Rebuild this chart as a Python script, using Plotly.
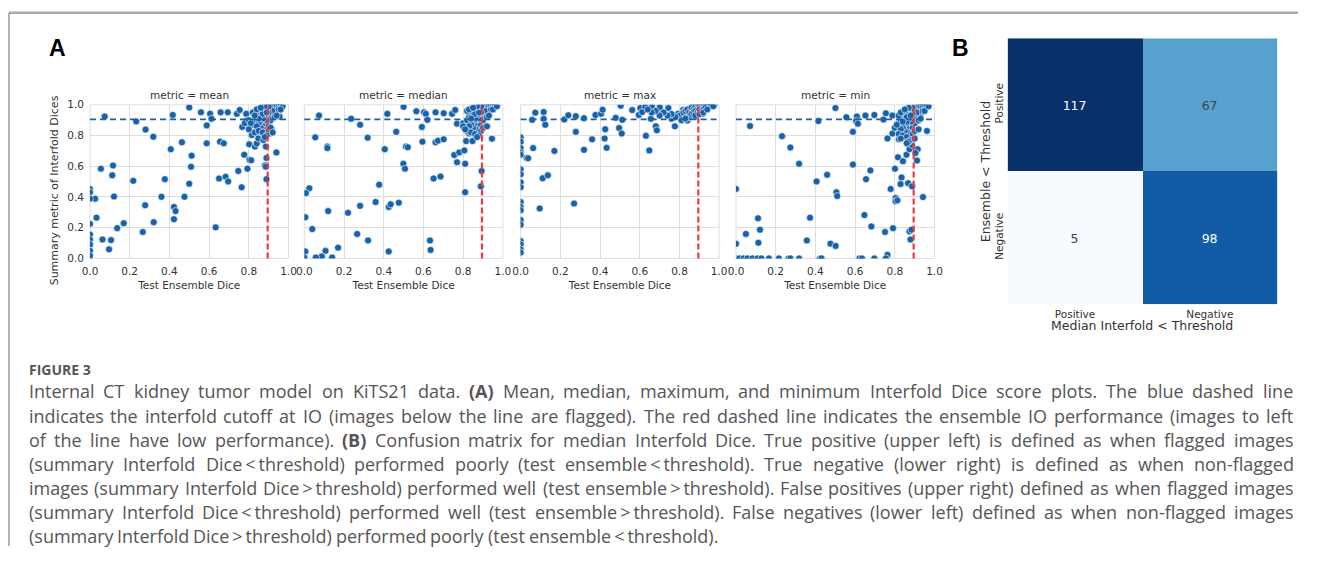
import re
import plotly.graph_objects as go
import plotly.colors as pc

# ---------------- data ----------------
PANELS = ["mean", "median", "max", "min"]
INTERFOLD_CUTOFF = 0.905
ENSEMBLE_IO = 0.895

mean_x = [0.074,0.233,0.28,0.319,0.407,0.463,0.417,0.50,0.512,0.509,0.50,0.476,0.377,0.36,0.423,0.431,0.423,0.321,0.278,0.266,0.218,0.170,0.137,0.121,0.112,0.116,0.055,0.063,0.106,0.096,0.026,0.033,0,0,0,0,0,0,0,0,0,
          0.559,0.605,0.612,0.588,0.588,0.658,0.694,0.655,0.674,0.65,0.683,0.696,0.633,0.74,0.754,0.787,0.747,0.764,0.767,0.777,0.793,0.803,0.812,0.802,0.815,0.831,0.84,0.848,0.873,0.881,0.886,0.889,0.889,0.886,0.939,0.939,0.955,0.906,0.914,0.79,
          0.78,0.8,0.82,0.83,0.84,0.85,0.86,0.87,0.88,0.89,0.9,0.91,0.92,0.93,0.94,0.95,0.96,0.97,0.86,0.87,0.88,0.89,0.9,0.91,0.92,0.93,0.94,0.9,0.89,0.88,0.87,0.86,0.85,0.84,0.83,0.85,0.87,0.9,0.91,0.92,0.89,0.88,0.91,0.92,0.95,0.9,0.93,0.87,0.85,0.82,0.84,0.89,0.9,0.88,0.86,0.94,0.96,0.81,0.8,0.83]
mean_y = [0.924,0.892,0.839,0.792,0.711,0.756,0.934,0.983,0.669,0.597,0.486,0.401,0.516,0.401,0.335,0.308,0.255,0.236,0.346,0.172,0.505,0.229,0.197,0.403,0.541,0.605,0.584,0.123,0.119,0.059,0.389,0.265,0.452,0.431,0.389,0.225,0.155,0.123,0.091,0.049,0.017,
          0.951,0.941,0.909,0.866,0.749,0.951,0.951,0.76,0.749,0.52,0.531,0.501,0.202,0.941,0.966,0.941,0.569,0.463,0.856,0.675,0.584,0.643,0.639,0.743,0.803,0.728,0.749,0.781,0.771,0.605,0.597,0.516,0.654,0.728,0.69,0.924,0.924,0.813,0.845,0.898,
          0.88,0.9,0.87,0.89,0.92,0.94,0.95,0.96,0.97,0.98,0.97,0.98,0.99,0.99,0.99,0.99,0.995,0.99,0.9,0.88,0.86,0.84,0.87,0.9,0.93,0.95,0.96,0.92,0.9,0.93,0.91,0.85,0.88,0.86,0.82,0.83,0.82,0.83,0.85,0.82,0.8,0.79,0.95,0.96,0.97,0.95,0.92,0.94,0.91,0.95,0.97,0.95,0.99,0.99,0.98,0.93,0.97,0.88,0.84,0.93]

median_x = [0.074,0.055,0.116,0.116,0.236,0.281,0.319,0.405,0.418,0.463,0.5,0.512,0.521,0.499,0.507,0.377,0.359,0.281,0.425,0.435,0.476,0.22,0.12,0.025,0.008,0.005,0.04,0.266,0.321,0.17,0.107,0.088,0.058,0.14,0.005,0.0,0.425,0.633,0.636,
            0.564,0.603,0.612,0.62,0.592,0.595,0.661,0.702,0.661,0.673,0.702,0.651,0.686,0.744,0.76,0.769,0.755,0.78,0.806,0.81,0.769,0.81,0.815,0.847,0.83,0.893,0.889,0.945,0.8,
            0.8,0.82,0.83,0.84,0.85,0.86,0.87,0.88,0.89,0.9,0.91,0.92,0.93,0.94,0.95,0.96,0.85,0.86,0.87,0.88,0.89,0.9,0.91,0.92,0.93,0.89,0.88,0.87,0.86,0.85,0.84,0.83,0.82,0.84,0.86,0.89,0.9,0.92,0.88,0.87,0.9,0.91,0.94,0.89,0.92,0.86,0.84,0.82,0.83,0.88,0.89,0.87,0.85,0.93,0.95,0.8,0.81,0.97]
median_y = [0.93,0.788,0.728,0.718,0.909,0.87,0.786,0.711,0.941,0.824,0.987,0.728,0.724,0.616,0.584,0.48,0.367,0.342,0.335,0.352,0.363,0.297,0.308,0.456,0.425,0.268,0.191,0.159,0.117,0.07,0.049,0.013,0.006,0.006,0.045,0.006,0.045,0.117,0.055,
            0.958,0.951,0.941,0.902,0.856,0.76,0.951,0.945,0.756,0.766,0.775,0.52,0.533,0.941,0.966,0.877,0.673,0.69,0.703,0.616,0.626,0.431,0.764,0.764,0.813,0.569,0.469,0.779,0.877,
            0.88,0.9,0.92,0.94,0.95,0.96,0.97,0.98,0.97,0.98,0.99,0.99,0.99,0.995,0.99,1.0,0.9,0.88,0.86,0.84,0.87,0.9,0.93,0.95,0.96,0.92,0.91,0.93,0.91,0.85,0.87,0.86,0.83,0.82,0.81,0.83,0.85,0.86,0.8,0.79,0.95,0.96,0.97,0.95,0.92,0.94,0.91,0.96,0.97,0.95,0.99,0.99,0.98,0.93,0.97,0.86,0.84,0.99]

max_x = [0.058,0.074,0.116,0.116,0.124,0.063,0.03,0.038,0.17,0.111,0.137,0.096,0.269,0.22,0.24,0.278,0.319,0.278,0.319,0.36,0.377,0.405,0.413,0.426,0.423,0.433,0.479,0.504,0.496,0.509,0.512,0.562,0.595,0.603,0.612,0.628,0.661,0.656,0.631,0.648,0.681,0.686,0.702,0.701,0.744,0.76,0.777,0.772,0.793,0.818,0.84,0.84,0.868,0.876,0.901,0.917,0.934,0.959,0.975,
         0,0,0,0,0,0,0,0,0,0,0,0,0,0,0,0,0,0,
         0.8,0.82,0.83,0.84,0.85,0.86,0.87,0.88,0.89,0.9,0.91,0.92,0.93,0.94,0.95,0.96,0.85,0.86,0.87,0.88,0.89,0.9,0.91,0.92,0.93,0.81,0.83,0.88,0.9,0.92,0.94,0.78,0.76,0.74,0.72,0.7,0.68,0.66,0.64,0.97]
max_y = [0.902,0.949,0.953,0.909,0.87,0.718,0.654,0.652,0.70,0.522,0.541,0.325,0.357,0.904,0.932,0.926,0.913,0.824,0.707,0.775,0.934,0.941,0.968,0.841,0.781,0.72,0.915,0.994,0.849,0.813,0.902,0.966,0.934,0.979,0.953,0.987,0.987,0.909,0.798,0.703,0.86,0.834,0.947,0.983,0.979,0.909,0.86,0.93,0.941,0.966,0.898,0.941,0.994,0.958,0.987,0.941,0.987,0.994,0.998,
         0.788,0.76,0.718,0.69,0.675,0.58,0.548,0.495,0.463,0.367,0.335,0.314,0.25,0.219,0.113,0.091,0.059,0.038,
         0.93,0.95,0.96,0.97,0.95,0.98,0.97,0.99,0.98,0.99,0.98,0.99,0.995,0.99,0.995,1.0,0.92,0.94,0.95,0.96,0.95,0.97,0.96,0.97,0.98,0.9,0.91,0.93,0.94,0.95,0.97,0.92,0.94,0.93,0.95,0.93,0.96,0.95,0.97,0.99]

min_x = [0.071,0.232,0.274,0.318,0.415,0.406,0.459,0.501,0.506,0.51,0.556,0.589,0.609,0.605,0.614,0.652,0.697,0.743,0.755,0.788,0.589,0.677,0.655,0.373,0.111,0.121,0.113,0.05,0.0,0.0,0.357,0.476,0.502,0.647,0.682,0.751,0.791,0.763,0.801,0.779,0.834,0.829,0.804,0.804,0.813,0.867,0.887,0.874,0.884,0.879,0.942,0.816,0.841,0.859,0.874,0.912,0.915,0.904,0.887,0.763,0.788,0.821,0.854,0.962,
         0,0.017,0.038,0.058,0.083,0.108,0.128,0.166,0.216,0.265,0.274,0.318,0.423,0.431,0.622,0.635,0.697,0.755,
         0.8,0.82,0.83,0.84,0.85,0.86,0.87,0.88,0.89,0.9,0.91,0.92,0.93,0.94,0.95,0.96,0.85,0.86,0.87,0.88,0.89,0.9,0.91,0.92,0.93,0.89,0.88,0.87,0.86,0.85,0.84,0.83,0.82,0.84,0.86,0.89,0.9,0.92,0.88,0.87,0.9,0.91,0.94,0.89,0.92,0.86,0.84,0.82,0.83,0.88,0.89,0.87,0.85,0.93,0.95,0.81,0.97,0.86,0.9,0.83]
min_y = [0.862,0.796,0.722,0.616,0.894,0.501,0.544,0.979,0.431,0.406,0.919,0.824,0.924,0.894,0.877,0.93,0.934,0.904,0.945,0.93,0.611,0.573,0.516,0.265,0.261,0.187,0.102,0.159,0.452,0.096,0.117,0.096,0.081,0.282,0.208,0.172,0.197,0.023,0.584,0.452,0.527,0.484,0.393,0.372,0.378,0.49,0.469,0.176,0.187,0.123,0.399,0.658,0.633,0.675,0.711,0.637,0.711,0.686,0.739,0.781,0.813,0.775,0.792,0.83,
         0,0,0,0,0,0,0,0,0,0,0,0,0,0,0,0,0,0,
         0.85,0.88,0.9,0.92,0.94,0.95,0.96,0.97,0.96,0.97,0.98,0.99,0.99,0.99,0.99,0.995,0.88,0.86,0.84,0.82,0.85,0.88,0.91,0.93,0.94,0.9,0.89,0.91,0.89,0.83,0.85,0.84,0.81,0.8,0.79,0.81,0.83,0.84,0.77,0.76,0.93,0.95,0.96,0.94,0.9,0.92,0.89,0.93,0.95,0.93,0.98,0.98,0.97,0.91,0.96,0.87,0.99,0.75,0.78,0.78]

PANEL_X = [mean_x, median_x, max_x, min_x]
PANEL_Y = [mean_y, median_y, max_y, min_y]

X_TICKS = [0.0, 0.2, 0.4, 0.6, 0.8, 1.0]

CM_X = ["Positive", "Negative"]
CM_Y = ["Positive", "Negative"]
CM_Z = [[117, 67], [5, 98]]

CAPTION_HEAD = "FIGURE 3"
LT = "\u2009&lt;\u2009"
GT = "\u2009&gt;\u2009"
CAPTION_LINES = [
    "Internal CT kidney tumor model on KiTS21 data. <b>(A)</b> Mean, median, maximum, and minimum Interfold Dice score plots. The blue dashed line",
    "indicates the interfold cutoff at IO (images below the line are flagged). The red dashed line indicates the ensemble IO performance (images to left",
    "of the line have low performance). <b>(B)</b> Confusion matrix for median Interfold Dice. True positive (upper left) is defined as when flagged images",
    "(summary Interfold Dice" + LT + "threshold) performed poorly (test ensemble" + LT + "threshold). True negative (lower right) is defined as when non-flagged",
    "images (summary Interfold Dice" + GT + "threshold) performed well (test ensemble" + GT + "threshold). False positives (upper right) defined as when flagged images",
    "(summary Interfold Dice" + LT + "threshold) performed well (test ensemble" + GT + "threshold). False negatives (lower left) defined as when non-flagged images",
    "(summary Interfold Dice" + GT + "threshold) performed poorly (test ensemble" + LT + "threshold).",
]

# ---------------- layout helpers ----------------
# the page keeps the browser's default 8px body margin, so the figure is sized to fill
# the 1322x568 window exactly with it; positions below are given in window pixels
PAGE_W, PAGE_H, BODY_MARGIN = 1322, 568, 8
W, H = PAGE_W - 2 * BODY_MARGIN, PAGE_H - 2 * BODY_MARGIN
def px(x): return (x - BODY_MARGIN) / W
def py(y): return 1 - (y - BODY_MARGIN) / H

PANEL_LEFT = [91, 308, 527, 745]
PANEL_W = 201
PANEL_TOP, PANEL_BOT = 109, 266
DOT = "#1862aa"
GRID = "#dedede"
TXT = "#333333"
MPL_FONT = "DejaVu Sans"

fig = go.Figure()
layout = dict(width=W, height=H, margin=dict(l=0, r=0, t=0, b=0),
              paper_bgcolor="white", plot_bgcolor="white", showlegend=False)
annotations = []
shapes = []

def note(text, x, y, size, color=TXT, family=MPL_FONT, xanchor="center", angle=0):
    annotations.append(dict(text=text, xref="paper", yref="paper", x=px(x), y=py(y),
                            xanchor=xanchor, yanchor="middle", textangle=angle, showarrow=False,
                            font=dict(family=family, size=size, color=color)))

for i, name in enumerate(PANELS):
    k = "" if i == 0 else str(i + 1)
    fig.add_trace(go.Scatter(
        x=PANEL_X[i], y=PANEL_Y[i], mode="markers",
        xaxis="x" + k, yaxis="y" + k,
        marker=dict(size=7, color=DOT, line=dict(color="white", width=0.6)),
        cliponaxis=True, hoverinfo="x+y"))
    layout["xaxis" + k] = dict(
        domain=[px(PANEL_LEFT[i]), px(PANEL_LEFT[i] + PANEL_W)], anchor="y" + k,
        range=[0, 1.0], tickvals=X_TICKS, tickformat=".1f",
        showgrid=True, gridcolor=GRID, gridwidth=1, zeroline=False, showline=False,
        ticks="", ticklabelstandoff=5, tickfont=dict(family=MPL_FONT, size=10.5, color=TXT),
        title=dict(text="Test Ensemble Dice", font=dict(family=MPL_FONT, size=10.5, color=TXT), standoff=5),
        fixedrange=True)
    layout["yaxis" + k] = dict(
        domain=[py(PANEL_BOT), py(PANEL_TOP)], anchor="x" + k,
        range=[0, 1.0], tickvals=X_TICKS, tickformat=".1f",
        showticklabels=(i == 0),
        showgrid=True, gridcolor=GRID, gridwidth=1, zeroline=False, showline=False,
        ticks="", ticklabelstandoff=5, tickfont=dict(family=MPL_FONT, size=10.5, color=TXT), fixedrange=True)
    shapes.append(dict(type="rect", xref="x" + k + " domain", yref="y" + k + " domain",
                       x0=0, x1=1, y0=0, y1=1, line=dict(color=GRID, width=1), layer="below"))
    shapes.append(dict(type="line", xref="x" + k + " domain", yref="y" + k,
                       x0=0, x1=1, y0=INTERFOLD_CUTOFF, y1=INTERFOLD_CUTOFF,
                       line=dict(color="#1f5fa6", width=1.6, dash="6px,4px")))
    shapes.append(dict(type="line", xref="x" + k, yref="y" + k + " domain",
                       x0=ENSEMBLE_IO, x1=ENSEMBLE_IO, y0=0, y1=1,
                       line=dict(color="#f23a3a", width=2.2, dash="6px,3px")))
    note("metric = " + name, PANEL_LEFT[i] + PANEL_W / 2, 99, 10.5)

note("Summary metric of Interfold Dices", 55, 196, 11, angle=-90)

# ---------------- confusion matrix ----------------
fig.add_trace(go.Heatmap(
    z=CM_Z, x=CM_X, y=CM_Y, xaxis="x5", yaxis="y5",
    colorscale=pc.sequential.Blues, showscale=False,
    texttemplate="%{z}", textfont=dict(family=MPL_FONT, size=12.5),
    hoverinfo="z"))
layout["xaxis5"] = dict(domain=[px(1020), px(1293)], anchor="y5", showgrid=False, zeroline=False,
                        ticks="", ticklabelstandoff=2,
                        tickfont=dict(family=MPL_FONT, size=10.5, color=TXT), fixedrange=True)
layout["yaxis5"] = dict(domain=[py(313), py(41)], anchor="x5", autorange="reversed", showgrid=False,
                        zeroline=False, ticks="", tickangle=-90, ticklabelstandoff=2,
                        tickfont=dict(family=MPL_FONT, size=10.5, color=TXT), fixedrange=True)
note("Median Interfold &lt; Threshold", 1156, 335, 12.5)
note("Ensemble &lt; Threshold", 997, 177, 12.5, angle=-90)

# ---------------- panel letters ----------------
note("<b>A</b>", 58, 51, 23, color="black", family="Liberation Sans")
note("<b>B</b>", 972, 51, 23, color="black", family="Liberation Sans")

# ---------------- frame ----------------
shapes.append(dict(type="line", xref="paper", yref="paper", x0=px(9), x1=1, y0=py(15), y1=py(15),
                   line=dict(color="#ababab", width=2.5)))
shapes.append(dict(type="line", xref="paper", yref="paper", x0=px(9), x1=px(9), y0=py(15), y1=0,
                   line=dict(color="#6a6a6a", width=1)))

# ---------------- caption (justified word by word) ----------------
CAP_FONT = "Open Sans"
CAP_COLOR = "#555555"
CAP_SIZE = 18
CAP_LEFT, CAP_RIGHT = 27, 1307

# approximate Open Sans advance widths (per 2048 em)
_W = {' ': 532, 'a': 1139, 'b': 1255, 'c': 975, 'd': 1255, 'e': 1149, 'f': 694, 'g': 1122, 'h': 1257,
      'i': 518, 'j': 518, 'k': 1075, 'l': 518, 'm': 1905, 'n': 1257, 'o': 1237, 'p': 1255, 'q': 1255,
      'r': 836, 's': 977, 't': 723, 'u': 1257, 'v': 1026, 'w': 1593, 'x': 1073, 'y': 1028, 'z': 981,
      'A': 1296, 'B': 1327, 'C': 1292, 'D': 1493, 'E': 1139, 'F': 1057, 'G': 1491, 'H': 1511, 'I': 571,
      'J': 547, 'K': 1257, 'L': 1073, 'M': 1804, 'N': 1538, 'O': 1606, 'P': 1237, 'Q': 1606, 'R': 1264,
      'S': 1124, 'T': 1126, 'U': 1489, 'V': 1223, 'W': 1864, 'X': 1189, 'Y': 1154, 'Z': 1138,
      '(': 606, ')': 606, '.': 545, ',': 506, '-': 659, '<': 1171, '>': 1171, '\u2009': 380}

def word_width(word, size):
    bold = "<b>" in word
    plain = re.sub(r"<[^>]+>", "", word).replace("&lt;", "<").replace("&gt;", ">")
    w = sum(_W.get(c, 1171) for c in plain) / 2048 * size
    return w * (1.08 if bold else 1.0)

note("<b>" + CAPTION_HEAD + "</b>", CAP_LEFT, 380, 14, color=CAP_COLOR, family=CAP_FONT, xanchor="left")
for j, line in enumerate(CAPTION_LINES):
    yy = 402 + j * 24.6
    words = line.split(" ")
    widths = [word_width(w_, CAP_SIZE) for w_ in words]
    last = (j == len(CAPTION_LINES) - 1)
    if last or len(words) < 2:
        gap = _W[' '] / 2048 * CAP_SIZE
    else:
        gap = (CAP_RIGHT - CAP_LEFT - sum(widths)) / (len(words) - 1)
    xcur = CAP_LEFT
    for w_, ww in zip(words, widths):
        note(w_, xcur, yy, CAP_SIZE, color=CAP_COLOR, family=CAP_FONT, xanchor="left")
        xcur += ww + gap

layout["annotations"] = annotations
layout["shapes"] = shapes
fig.update_layout(**layout)
fig.write_html("out.html")
